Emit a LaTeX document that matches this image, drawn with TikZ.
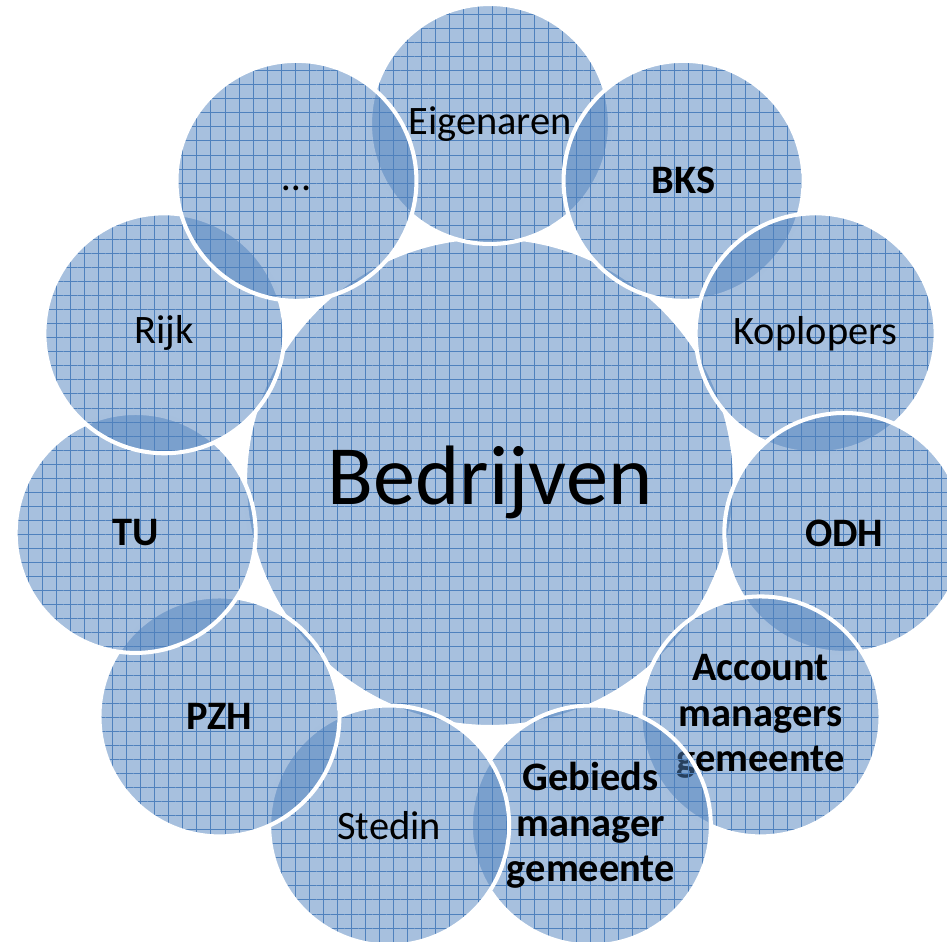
\documentclass[tikz,border=0pt]{standalone}
\usepackage{fontspec}
\setmainfont{Carlito}
\usetikzlibrary{calc,patterns.meta}
\definecolor{ringblue}{RGB}{79,129,189}
\begin{document}
\begin{tikzpicture}[x=0.02cm,y=0.02cm,
	bol/.style={circle,draw=white,line width=2.3pt,fill=ringblue,fill opacity=0.5,text opacity=1,
		preaction={pattern={Hatch[angle=0,distance=8pt,line width=0.4pt]},pattern color=ringblue}},
	sat/.style={minimum size=4.8cm,align=center,font=\fontsize{23}{26}\selectfont}]
		\useasboundingbox (0,0) rectangle (947,-942);
		\clip (0,0) rectangle (947,-942);
		\node[bol,minimum size=9.8cm,font=\fontsize{48}{56}\selectfont] (mid) at (490,-482) {Bedrijven};
		\foreach \lab [count=\xi] in {Eigenaren, \textbf{BKS}, Koplopers, \textbf{ODH},
				{\textbf{Account}\\\textbf{managers}\\\textbf{gemeente}},
				{\textbf{Gebieds}\\\textbf{manager}\\\textbf{gemeente}},
				Stedin, \textbf{PZH}, \textbf{TU}, Rijk, {\vphantom{Ag}\ldots}}
				{\node[bol,sat] (s\xi) at ($(mid.center)+({90-(\xi-1)*360/11}:358)$) {\lab};}
\end{tikzpicture}
\end{document}
